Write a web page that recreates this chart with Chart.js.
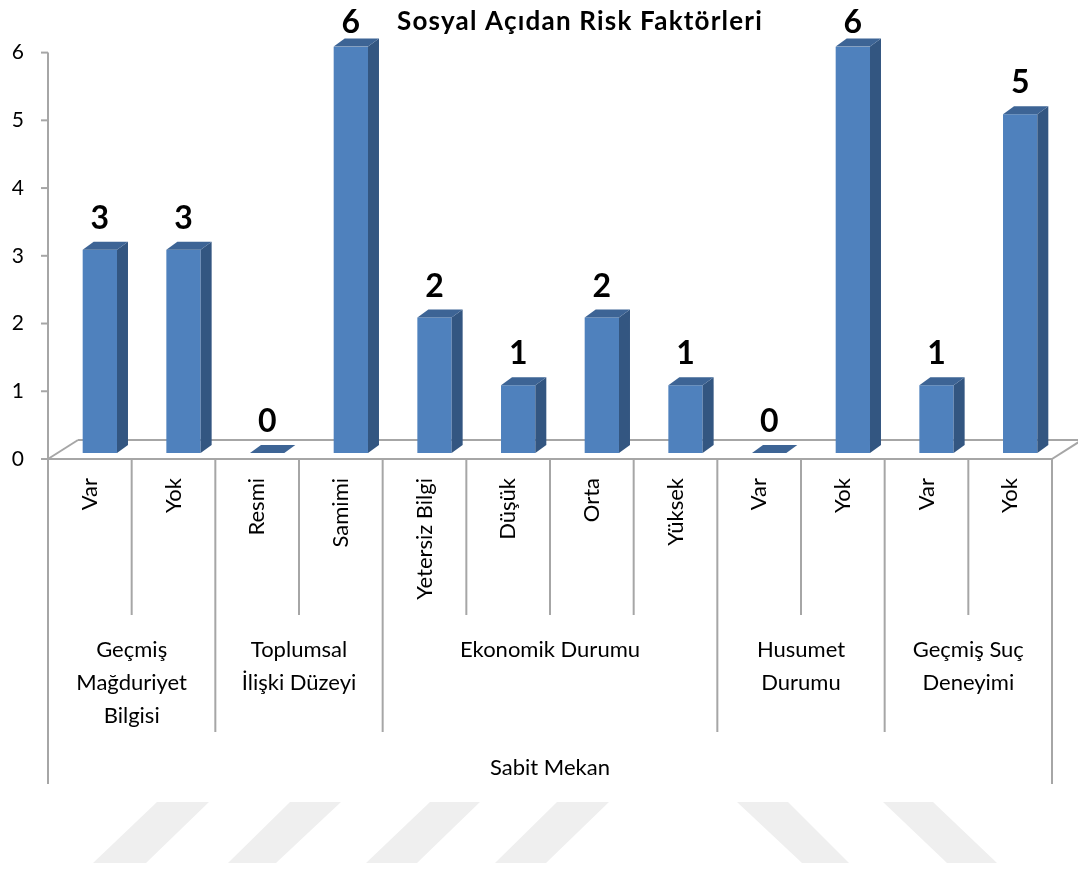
<!DOCTYPE html>
<html>
<head>
<meta charset="utf-8">
<script src="https://cdn.jsdelivr.net/npm/chart.js@4.4.0/dist/chart.umd.min.js"></script>
<style>
  html, body { margin: 0; padding: 0; background: #fff; }
</style>
</head>
<body>
<canvas id="chart" width="1078" height="869"></canvas>
<script>
// chart data
var baslik = 'Sosyal Açıdan Risk Faktörleri';
var kategoriler = ['Var', 'Yok', 'Resmi', 'Samimi', 'Yetersiz Bilgi', 'Düşük', 'Orta', 'Yüksek', 'Var', 'Yok', 'Var', 'Yok'];
var degerler = [3, 3, 0, 6, 2, 1, 2, 1, 0, 6, 1, 5];
var gruplar = [['Geçmiş', 'Mağduriyet', 'Bilgisi'], ['Toplumsal', 'İlişki Düzeyi'], ['Ekonomik Durumu'], ['Husumet', 'Durumu'], ['Geçmiş Suç', 'Deneyimi']];
var grupBoyu = [2, 2, 4, 2, 2];
var ustGrup = 'Sabit Mekan';
var yTikler = [0, 1, 2, 3, 4, 5, 6];

// 3d look
var FRONT = { dx: -10, dy: 6 };   // floor front edge vs bar plane
var BACK = { dx: 20, dy: -13 };   // floor back edge vs bar plane
var DEPTH = { dx: 11, dy: 8 };    // bar depth
var LINE = '#a6a6a6';
var FONT = 'Lato, "Noto Sans", sans-serif';

function line(ctx, x1, y1, x2, y2) {
  ctx.beginPath();
  ctx.moveTo(x1, y1);
  ctx.lineTo(x2, y2);
  ctx.stroke();
}

function poly(ctx, pts, color) {
  ctx.beginPath();
  ctx.moveTo(pts[0][0], pts[0][1]);
  for (var i = 1; i < pts.length; i++) ctx.lineTo(pts[i][0], pts[i][1]);
  ctx.closePath();
  ctx.fillStyle = color;
  ctx.fill();
}

var arkaplan = {
  id: 'arkaplan',
  beforeDraw: function (chart) {
    // faint page watermark
    var ctx = chart.ctx;
    ctx.save();
    var slash = [[157, 209, 93, 146], [290, 341, 228, 276], [430, 480, 366, 417], [557, 609, 495, 546],
                 [737, 788, 802, 849], [883, 933, 947, 997]];
    slash.forEach(function (s) {
      poly(ctx, [[s[0], 802], [s[1], 802], [s[3], 863], [s[2], 863]], '#efefef');
    });
    ctx.restore();
  },
  beforeDatasetsDraw: function (chart) {
    var ctx = chart.ctx;
    var a = chart.chartArea;
    var y = chart.scales.y;
    ctx.save();
    ctx.strokeStyle = LINE;
    ctx.lineWidth = 2;
    var fl = a.left + FRONT.dx, fr = a.right + FRONT.dx, fb = a.bottom + FRONT.dy;
    var bl = a.left + BACK.dx, br = a.right + BACK.dx, bb = a.bottom + BACK.dy;
    // floor
    line(ctx, bl, bb, br, bb);
    line(ctx, fl, fb, bl, bb);
    line(ctx, fr, fb, br, bb);
    line(ctx, fl, fb, fr, fb);
    // value axis
    line(ctx, fl, y.getPixelForValue(6) + FRONT.dy, fl, fb);
    yTikler.forEach(function (v) {
      var py = y.getPixelForValue(v) + FRONT.dy;
      line(ctx, fl - 7, py, fl, py);
    });
    ctx.restore();
  },
  afterDatasetsDraw: function (chart) {
    var ctx = chart.ctx;
    var meta = chart.getDatasetMeta(0);
    ctx.save();
    meta.data.forEach(function (bar, i) {
      var p = bar.getProps(['x', 'y', 'base', 'width'], true);
      var l = p.x - p.width / 2, r = p.x + p.width / 2;
      poly(ctx, [[r, p.y], [r + DEPTH.dx, p.y - DEPTH.dy], [r + DEPTH.dx, p.base - DEPTH.dy], [r, p.base]], '#335681');
      poly(ctx, [[l, p.y], [l + DEPTH.dx, p.y - DEPTH.dy], [r + DEPTH.dx, p.y - DEPTH.dy], [r, p.y]], '#3d6495');
      ctx.fillStyle = '#000';
      ctx.font = 'bold 32px ' + FONT;
      ctx.textAlign = 'center';
      ctx.textBaseline = 'alphabetic';
      // labels stay inside the chart's top edge
      ctx.fillText(String(degerler[i]), p.x, Math.max(p.y - 21, 33));
    });
    ctx.restore();
  },
  afterDraw: function (chart) {
    var ctx = chart.ctx;
    var a = chart.chartArea;
    var n = kategoriler.length;
    var fl = a.left + FRONT.dx, fr = a.right + FRONT.dx, fb = a.bottom + FRONT.dy;
    var w = (fr - fl) / n;
    ctx.save();
    // title
    ctx.fillStyle = '#000';
    ctx.font = 'bold 26px ' + FONT;
    ctx.letterSpacing = '1.2px';
    ctx.textAlign = 'center';
    ctx.textBaseline = 'alphabetic';
    ctx.fillText(baslik, 580, 30);
    ctx.letterSpacing = '0px';

    // category separators
    ctx.strokeStyle = LINE;
    ctx.lineWidth = 2;
    var sinir = [0];
    grupBoyu.forEach(function (g) { sinir.push(sinir[sinir.length - 1] + g); });
    for (var i = 0; i <= n; i++) {
      var x = fl + i * w;
      var end = 615;
      if (i === 0 || i === n) end = 784;
      else if (sinir.indexOf(i) >= 0) end = 732;
      line(ctx, x, fb, x, end);
    }
    // group labels
    ctx.font = '22px ' + FONT;
    ctx.textBaseline = 'middle';
    gruplar.forEach(function (lines, g) {
      var cx = fl + (sinir[g] + sinir[g + 1]) / 2 * w;
      lines.forEach(function (t, k) {
        ctx.fillText(t, cx, 650 + k * 33);
      });
    });
    ctx.fillText(ustGrup, (fl + fr) / 2, 768);
    ctx.restore();
  }
};

var chart = new Chart('chart', {
  type: 'bar',
  data: {
    labels: kategoriler,
    datasets: [{
      label: baslik,
      data: degerler,
      backgroundColor: '#4f81bd',
      borderWidth: 0,
      barPercentage: 0.41,
      categoryPercentage: 1
    }]
  },
  options: {
    responsive: false,
    animation: false,
    layout: { padding: { top: 46, right: 16, left: 0, bottom: 0 } },
    plugins: {
      legend: { display: false },
      tooltip: { enabled: false }
    },
    scales: {
      x: {
        grid: { display: false, drawTicks: false },
        border: { display: false },
        ticks: {
          autoSkip: false,
          minRotation: 90,
          maxRotation: 90,
          padding: 25,
          labelOffset: FRONT.dx,
          color: '#000',
          font: { family: FONT, size: 22 }
        },
        afterFit: function (scale) { scale.height = 416; }
      },
      y: {
        min: 0,
        max: 6,
        grid: { display: false, drawTicks: false },
        border: { display: false },
        afterBuildTicks: function (scale) {
          scale.ticks = yTikler.map(function (v) { return { value: v }; });
        },
        ticks: {
          padding: 34,
          labelOffset: FRONT.dy,
          color: '#000',
          font: { family: FONT, size: 21 }
        },
        afterFit: function (scale) { scale.width = 58; }
      }
    }
  },
  plugins: [arkaplan]
});
</script>
</body>
</html>
